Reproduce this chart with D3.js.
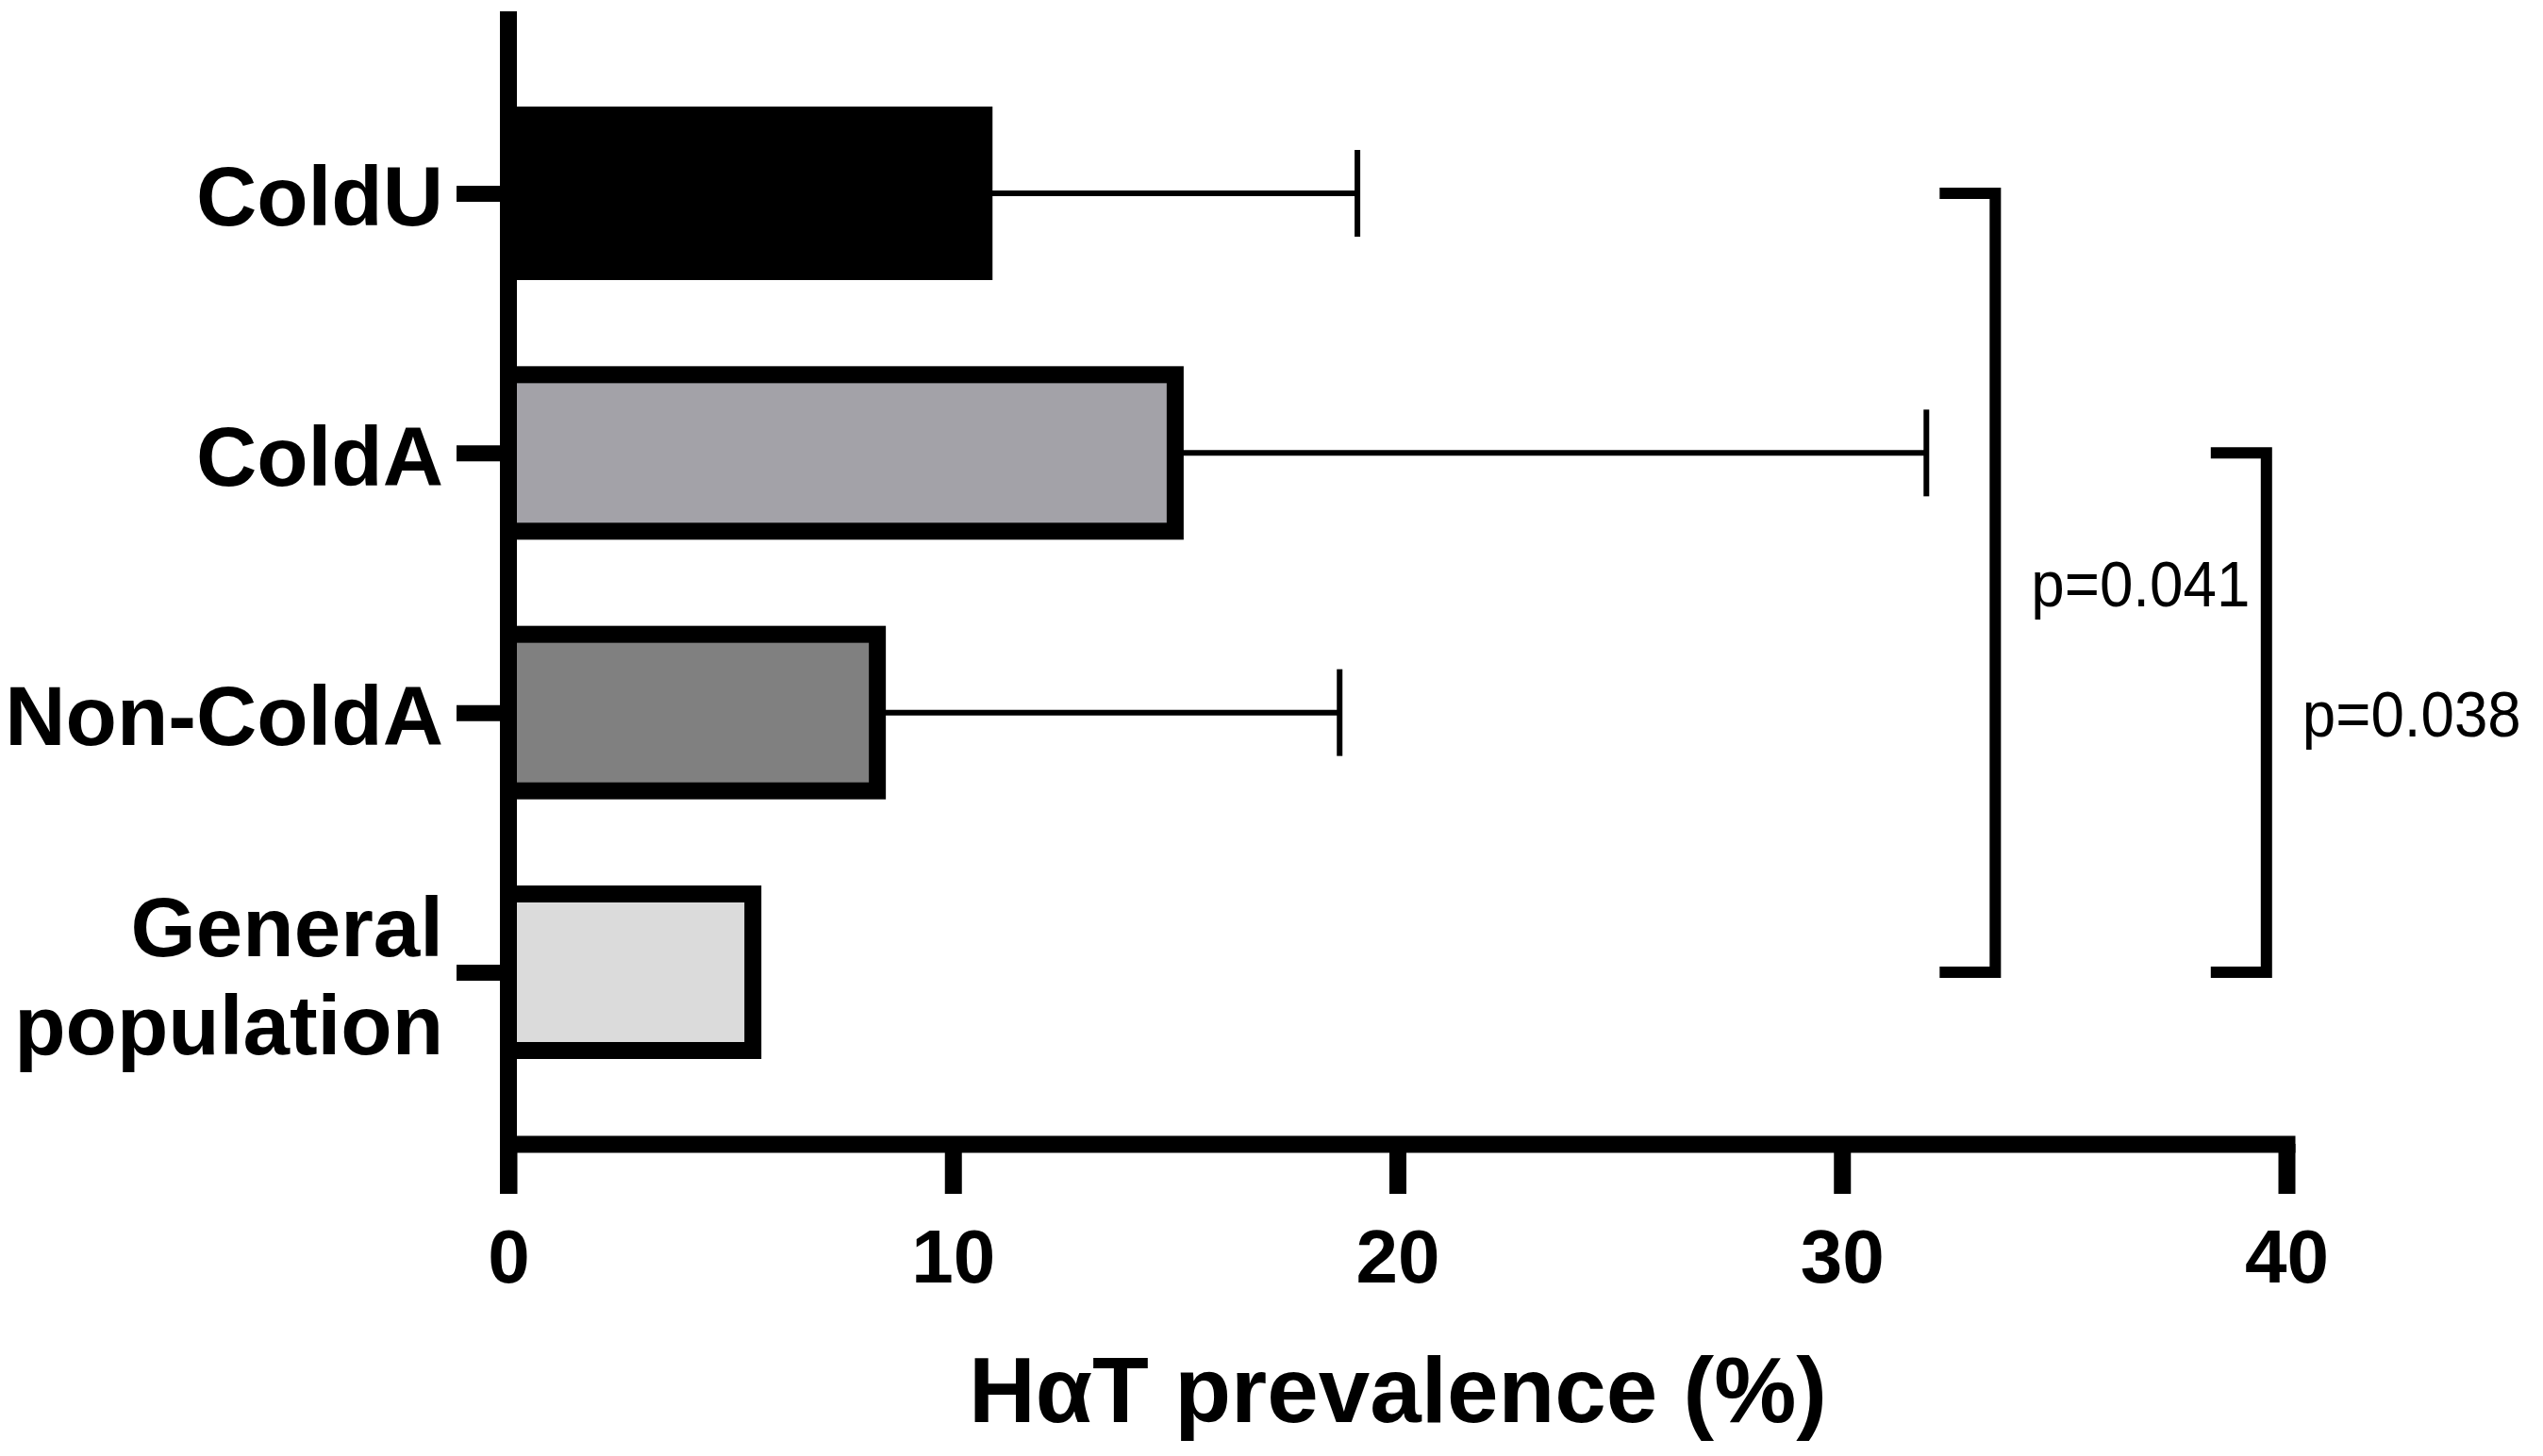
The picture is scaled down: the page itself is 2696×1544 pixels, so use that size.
<!DOCTYPE html>
<html>
<head>
<meta charset="utf-8">
<script src="https://cdn.jsdelivr.net/npm/d3@7"></script>
<style>
  html, body { margin: 0; padding: 0; background: #fff; }
  svg { display: block; }
  text { font-family: "Liberation Sans", Arial, Helvetica, sans-serif; }
</style>
</head>
<body>
<svg id="chart" width="2696" height="1544"></svg>
<script>
// ---- data ----
const categories = ["ColdU", "ColdA", "Non-ColdA", "General population"];
const prevalence = [10.7, 15.0, 8.3, 5.5];
const errorUpper = [19.1, 31.9, 18.7, null];
const barFills = ["#000000", "#a3a2a8", "#808080", "#dbdbdb"];
const xTicks = [0, 10, 20, 30, 40];
const xTitle = "HαT prevalence (%)";
const comparisons = [
  { from: "ColdU", to: "General population", label: "p=0.041", xPos: 33.45 },
  { from: "ColdA", to: "General population", label: "p=0.038", xPos: 39.55 }
];

// ---- layout ----
const svg = d3.select("#chart");
const x = d3.scaleLinear().domain([0, 40]).range([539, 2424]);
const y = d3.scalePoint().domain(categories).range([205, 1031]);
const axisY = 1213;
const barH = 166;

const rows = categories.map((c, i) => ({ c, v: prevalence[i], e: errorUpper[i], fill: barFills[i] }));

// error bars (drawn under bars)
const eb = svg.append("g");
rows.filter(d => d.e != null).forEach(d => {
  eb.append("line")
    .attr("x1", x(d.v)).attr("x2", x(d.e))
    .attr("y1", y(d.c)).attr("y2", y(d.c))
    .attr("stroke", "#000").attr("stroke-width", 6);
  eb.append("line")
    .attr("x1", x(d.e)).attr("x2", x(d.e))
    .attr("y1", y(d.c) - 46).attr("y2", y(d.c) + 46)
    .attr("stroke", "#000").attr("stroke-width", 6);
});

// bars
svg.append("g").selectAll("rect").data(rows).join("rect")
  .attr("x", x(0))
  .attr("y", d => y(d.c) - barH / 2)
  .attr("width", d => x(d.v) - x(0))
  .attr("height", barH)
  .attr("fill", d => d.fill)
  .attr("stroke", "#000")
  .attr("stroke-width", 18);

// x axis
const gx = svg.append("g").attr("transform", `translate(0,${axisY})`)
  .call(d3.axisBottom(x).tickValues(xTicks).tickSize(53).tickSizeOuter(0).tickFormat(d3.format("d")));
gx.select(".domain").attr("stroke-width", 18).attr("stroke-linecap", "square").attr("stroke", "#000");
gx.selectAll(".tick line").attr("stroke-width", 18).attr("stroke", "#000");
gx.selectAll(".tick text")
  .attr("y", 147).attr("dy", null)
  .attr("fill", "#000")
  .style("font-size", "80px").style("font-weight", "bold")
  .style("font-family", "'Liberation Sans', Arial, sans-serif");

// y axis
const gy = svg.append("g").attr("transform", `translate(${x(0)},0)`)
  .call(d3.axisLeft(y).tickSize(55).tickSizeOuter(0).tickPadding(14));
gy.select(".domain").remove();
gy.append("line")
  .attr("x1", 0).attr("x2", 0).attr("y1", 12).attr("y2", axisY + 53)
  .attr("stroke", "#000").attr("stroke-width", 18);
gy.selectAll(".tick line").attr("stroke-width", 17).attr("stroke", "#000");
gy.selectAll(".tick text")
  .attr("fill", "#000")
  .style("font-size", "89px").style("font-weight", "bold")
  .style("font-family", "'Liberation Sans', Arial, sans-serif")
  .each(function(d) {
    const t = d3.select(this);
    if (d === "General population") {
      t.text(null).attr("dy", null);
      const xx = t.attr("x");
      t.append("tspan").attr("x", xx).attr("y", -18).text("General");
      t.append("tspan").attr("x", xx).attr("y", 86).text("population");
    } else {
      t.attr("dy", "0.38em");
    }
  });

// x title
svg.append("text")
  .attr("x", 1482).attr("y", 1508)
  .attr("text-anchor", "middle")
  .style("font-size", "98px").style("font-weight", "bold")
  .text(xTitle);

// significance brackets
const gb = svg.append("g");
comparisons.forEach(cmp => {
  const xv = x(cmp.xPos);
  const y1 = y(cmp.from), y2 = y(cmp.to);
  gb.append("path")
    .attr("d", `M${xv - 59},${y1}H${xv}V${y2}H${xv - 59}`)
    .attr("fill", "none").attr("stroke", "#000")
    .attr("stroke-width", 12).attr("stroke-linejoin", "miter");
  gb.append("text")
    .attr("x", xv + 38).attr("y", (y1 + y2) / 2 + 25)
    .attr("textLength", 232).attr("lengthAdjust", "spacingAndGlyphs")
    .style("font-size", "69px")
    .text(cmp.label);
});
</script>
</body>
</html>
